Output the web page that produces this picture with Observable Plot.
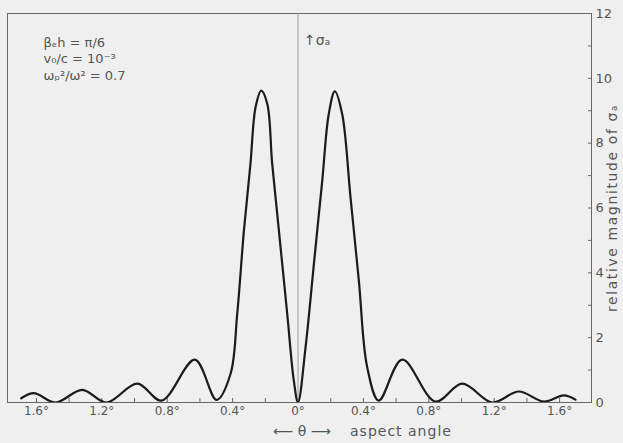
<!DOCTYPE html>
<html>
<head>
<meta charset="utf-8">
<script src="https://cdn.jsdelivr.net/npm/d3@7"></script>
<script src="https://cdn.jsdelivr.net/npm/@observablehq/plot@0.6"></script>
<style>
  html, body { margin: 0; padding: 0; background: #efefef; }
  #chart svg { display: block; }
</style>
</head>
<body>
<div id="chart"></div>
<script>
// Aspect angle (degrees, negative = left of centre) and relative magnitude of sigma_a
const angles = [
  -1.693, -1.616, -1.483, -1.320, -1.171, -0.983, -0.835, -0.631, -0.498,
  -0.413, -0.372, -0.331, -0.291, -0.260, -0.225, -0.188, -0.158, -0.117,
  -0.066, -0.026, 0.000, 0.046, 0.097, 0.148, 0.188, 0.225, 0.270, 0.321,
  0.372, 0.423, 0.494, 0.637, 0.841, 1.004, 1.188, 1.350, 1.503, 1.626, 1.697
];
const magnitudes = [
  0.13, 0.29, 0.00, 0.39, 0.00, 0.58, 0.06, 1.32, 0.08,
  0.88, 2.73, 5.30, 7.36, 9.10, 9.62, 9.21, 7.36, 5.30,
  2.73, 0.68, 0.00, 1.70, 4.27, 6.84, 8.90, 9.60, 8.90, 6.33,
  3.76, 1.09, 0.06, 1.32, 0.03, 0.58, 0.00, 0.34, 0.03, 0.22, 0.09
];
const xTicks = [-1.6, -1.4, -1.2, -1.0, -0.8, -0.6, -0.4, -0.2, 0, 0.2, 0.4, 0.6, 0.8, 1.0, 1.2, 1.4, 1.6];
const xLabels = [-1.6, -1.2, -0.8, -0.4, 0, 0.4, 0.8, 1.2, 1.6];
const yTicks = [0, 1, 2, 3, 4, 5, 6, 7, 8, 9, 10, 11, 12];
const yLabels = [0, 2, 4, 6, 8, 10, 12];
const params = ["βₑh = π/6", "v₀/c = 10⁻³", "ωₚ²/ω² = 0.7"];
const sigmaLabel = "↑σₐ";
const yTitle = "relative magnitude of σₐ";
const thetaLabel = "⟵ θ ⟶";
const xTitle = "aspect angle";

const data = angles.map((a, i) => ({angle: a, mag: magnitudes[i]}));
const ink = "#555";

const paramMarks = params.map((p, i) =>
  Plot.text([p], {frameAnchor: "top-left", dx: 36, dy: [29, 45, 62][i], text: d => d,
    textAnchor: "start", lineAnchor: "middle", fill: ink, fontSize: 13})
);

const chart = Plot.plot({
  width: 623,
  height: 443,
  marginLeft: 7,
  marginRight: 32,
  marginTop: 13,
  marginBottom: 41,
  style: {background: "#efefef", fontFamily: "DejaVu Sans, sans-serif", fontSize: "12px", color: ink},
  x: {domain: [-1.777, 1.795]},
  y: {domain: [0, 12]},
  marks: [
    Plot.frame({stroke: "#666", strokeWidth: 1}),
    Plot.ruleX([0], {stroke: "#999", strokeWidth: 1}),
    Plot.axisX(xTicks, {anchor: "bottom", tickSize: -4, text: null, stroke: "#666", label: null}),
    Plot.axisX(xLabels, {anchor: "bottom", tickSize: 0, tickPadding: 4, label: null, fill: ink,
      tickFormat: d => `${Math.abs(d) === 0 ? "0" : Math.abs(d).toFixed(1)}°`}),
    Plot.axisY(yTicks, {anchor: "right", tickSize: -4, text: null, stroke: "#666", label: null}),
    Plot.axisY(yLabels, {anchor: "right", tickSize: 0, tickPadding: 4, label: null, fill: ink, fontSize: 13}),
    Plot.line(data, {x: "angle", y: "mag", curve: "catmull-rom", stroke: "#1a1a1a", strokeWidth: 2.2, clip: true}),
    ...paramMarks,
    Plot.text([0], {x: d => d, frameAnchor: "top", dy: 27, dx: 6, text: () => sigmaLabel,
      textAnchor: "start", lineAnchor: "middle", fill: ink, fontSize: 14}),
    Plot.text([yTitle], {frameAnchor: "right", dx: 21, rotate: -90, text: d => d,
      textAnchor: "middle", lineAnchor: "middle", fill: ink, fontSize: 14}),
    Plot.text([0], {x: d => d, frameAnchor: "bottom", dy: 29, dx: 4, text: () => thetaLabel,
      textAnchor: "middle", lineAnchor: "middle", fill: ink, fontSize: 14}),
    Plot.text([0], {x: d => d, frameAnchor: "bottom", dy: 29, dx: 52, text: () => xTitle,
      textAnchor: "start", lineAnchor: "middle", fill: ink, fontSize: 14})
  ]
});
document.getElementById("chart").appendChild(chart);
// letter spacing for the hand-lettered titles
d3.select(chart).selectAll("text").each(function () {
  const t = this.textContent;
  if (t === yTitle) this.setAttribute("letter-spacing", "1.6");
  if (t === xTitle) this.setAttribute("letter-spacing", "1");
});
</script>
</body>
</html>
